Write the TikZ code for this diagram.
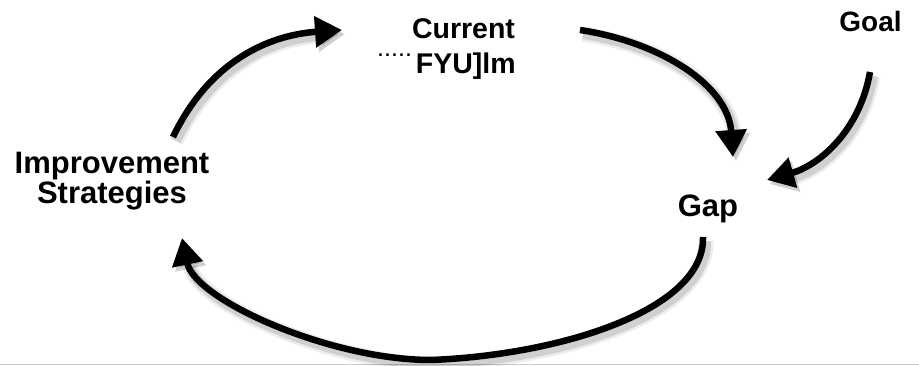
\documentclass[tikz,border=0pt]{standalone}
\usepackage{fontspec}
\setmainfont{Liberation Sans}
\usetikzlibrary{arrows.meta}
\begin{document}
\begin{tikzpicture}[x=1pt,y=-1pt,
  lbl/.style={inner sep=0pt},
  flow/.style={line width=6.5pt, -{Triangle[length=27pt,width=30pt]},
    preaction={draw=black, opacity=0.07, line width=15pt, transform canvas={shift={(3pt,-4pt)}}},
    preaction={draw=black, opacity=0.12, line width=10pt, transform canvas={shift={(3pt,-4pt)}}}},
  baseline/.style={draw=black!20, line width=1.5pt}
]
\fill[white] (0,0) rectangle (919,366);
\useasboundingbox (0,0) rectangle (919,366);

% labels
\node[lbl, font=\bfseries\fontsize{31}{27}\selectfont, align=center] (imp) at (112,181) {Improvement\\Strategies};
\node[lbl, font=\bfseries\fontsize{28.5}{30}\selectfont, anchor=base] (cur) at (463.5,39) {Current};
\node[lbl, font=\bfseries\fontsize{28.5}{30}\selectfont, anchor=base west] (real) at (377,74)
  {\raisebox{17pt}{\fontsize{25}{25}\selectfont\mdseries.....}\kern4pt FYU]lm};
\node[lbl, font=\bfseries\fontsize{31}{33}\selectfont, anchor=base] (gap) at (708,217) {Gap};
\node[lbl, font=\bfseries\fontsize{28}{30}\selectfont, anchor=base] (goal) at (870.5,32) {Goal};

% connector ends
\coordinate (a1s) at (173,137);
\coordinate (a1e) at (342,30);
\coordinate (a2s) at (580,30);
\coordinate (a2e) at (733,157);
\coordinate (a3s) at (870,72);
\coordinate (a3e) at (767,180);
\coordinate (a4s) at (703,237);
\coordinate (a4m) at (431,360);
\coordinate (a4e) at (182,238);

% bottom rule
\draw[baseline] (0,364.5) -- (919,364.5);

% connectors
\draw[flow] (a1s) .. controls (210,60) and (270,35) .. (a1e);
\draw[flow] (a2s) .. controls (660,42) and (728,85) .. (a2e);
\draw[flow] (a3s) .. controls (860,130) and (820,165) .. (a3e);
\draw[flow] (a4s) .. controls (705,310) and (560,355) .. (a4m)
                  .. controls (330,360) and (195,300) .. (a4e);
\end{tikzpicture}
\end{document}
